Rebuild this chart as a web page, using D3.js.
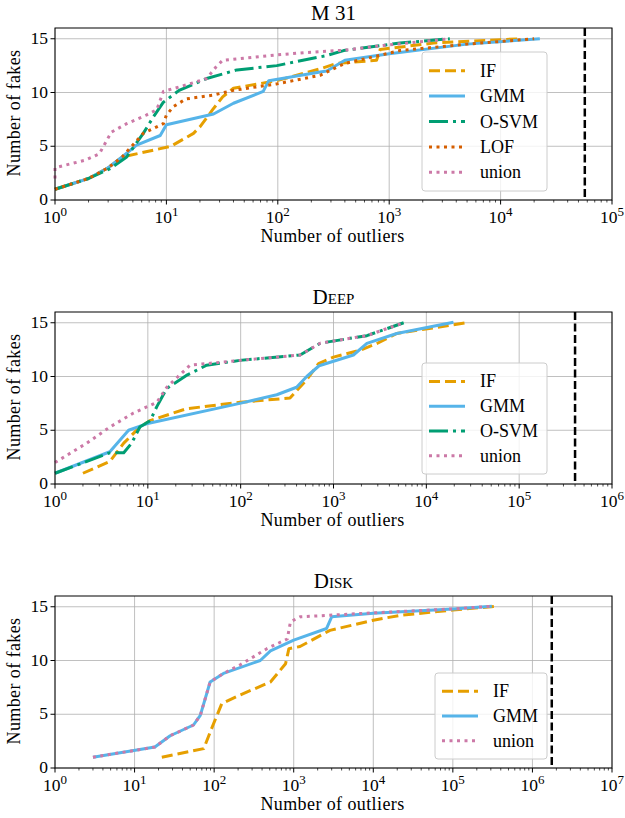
<!DOCTYPE html>
<html lang="en">
<head>
  <meta charset="UTF-8">
  <title>Number of fakes vs number of outliers</title>
  <script src="https://d3js.org/d3.v7.min.js"></script>
  <style>
    body { margin: 0; background: #fff; }
    svg text { font-family: "Liberation Serif", "DejaVu Serif", serif; fill: #000; }
  </style>
</head>
<body>
<div id="chart"></div>
<script>
// ---- data: [number of outliers, number of fakes] ----
const m31IF    = [[1,1],[2,2],[3,3],[4,4],[11,5],[17.5,6.2],[20,6.8],[26,8.4],[32,9.6],[40,10.4],[98,11.1],[240,12.2],[335,12.7],[770,13],[830,14],[2500,14.6],[15000,15]];
const m31GMM   = [[1,1],[2,2],[3,3],[4,4],[5.4,5.1],[8.8,6],[10,7],[26.5,8],[40,9],[74,10.1],[83,11.1],[240,11.9],[275,12],[400,13],[1000,13.6],[5000,14.5],[22500,15]];
const m31OSVM  = [[1,1],[2,2],[3.1,2.9],[4.4,4],[6.2,6.2],[7.6,7.7],[9.4,9.1],[10,9.3],[13,10.2],[23,11.3],[43,12.1],[98,12.5],[168,13],[265,13.4],[390,13.9],[1250,14.6],[3500,15]];
const m31LOF   = [[1,1],[2,2],[3,3],[4,4],[6.2,6.2],[8.2,6.8],[9.4,7.1],[10,7.9],[11.6,8.7],[15,9.4],[26,9.75],[40,10.2],[98,10.8],[240,11.6],[315,12.2],[400,12.7],[1250,13.9],[5000,14.5],[20000,15]];
const m31Union = [[1,2],[1,3],[1.86,3.7],[2.5,4.3],[3.2,6.3],[4.4,7.1],[6.6,7.9],[8.2,8.4],[9.4,10.1],[15,10.7],[23,11.3],[28,12.4],[32,13],[98,13.5],[172,13.7],[415,13.95],[830,14.35],[3500,15]];

const deepIF    = [[2,1],[3.9,2.1],[5.5,3.8],[8.2,5.3],[10.6,5.9],[26,7],[98,7.6],[340,8],[515,9.7],[690,11.2],[1000,11.8],[1940,12.45],[2940,13.07],[4800,14],[27000,15]];
const deepGMM   = [[1,1],[3.9,3],[6.2,5],[9.7,5.6],[98,7.5],[245,8.3],[400,9],[515,10],[700,11],[1640,12],[2290,13.08],[4800,14],[19600,15.05]];
const deepOSVM  = [[1,1],[3.9,2.9],[5.5,2.9],[6.7,3.8],[8.2,5.3],[10.6,5.9],[12.5,7.2],[16,8.9],[26,10.1],[43,11.05],[98,11.5],[437,12],[720,13.1],[2290,13.8],[5700,15]];
const deepUnion = [[1,2],[2.2,3.8],[3.9,5.3],[7,6.6],[12.5,7.6],[16,9],[28.5,11.05],[98,11.5],[437,12],[720,13.1],[2290,13.8],[5700,15]];

const diskIF    = [[22,1],[74,1.8],[98,4.1],[125,6],[213,6.8],[510,8],[790,9.7],[870,11.1],[1200,11.3],[2850,12.8],[10000,13.75],[21700,14.2],[100000,14.7],[357000,15.05]];
const diskGMM   = [[3,1],[18,1.95],[28,3],[55,4],[67,4.9],[89,8],[131,8.8],[380,10],[510,10.9],[1000,11.9],[2590,12.98],[3000,14.06],[10000,14.4],[100000,14.8],[309000,15.05]];
const diskUnion = [[3,1],[18,1.95],[28,3],[55,4],[67,4.9],[89,8],[131,8.8],[213,9.6],[460,11.1],[830,12],[910,13.6],[1200,14.06],[8300,14.4],[100000,14.8],[309000,15.05]];

const yTicks = [0, 5, 10, 15];
const totals = [57000, 400000, 1750000];   // dashed vertical marker per panel

const styles = {
  "IF":    { color: "#E69F00", dash: "11,5" },
  "GMM":   { color: "#56B4E9", dash: null },
  "O-SVM": { color: "#009E73", dash: "19,5,3,5" },
  "LOF":   { color: "#D55E00", dash: "3,4.5" },
  "union": { color: "#CC79A7", dash: "3,4.5" }
};

const panels = [
  { title: "M 31", smallcaps: false, top: 28, xmax: 1e5, total: totals[0],
    series: [["IF", m31IF], ["GMM", m31GMM], ["O-SVM", m31OSVM], ["LOF", m31LOF], ["union", m31Union]],
    legend: { x: 422, y: 52, w: 125, h: 139 } },
  { title: "Deep", smallcaps: true, top: 312, xmax: 1e6, total: totals[1],
    series: [["IF", deepIF], ["GMM", deepGMM], ["O-SVM", deepOSVM], ["union", deepUnion]],
    legend: { x: 422, y: 363, w: 125, h: 111 } },
  { title: "Disk", smallcaps: true, top: 596, xmax: 1e7, total: totals[2],
    series: [["IF", diskIF], ["GMM", diskGMM], ["union", diskUnion]],
    legend: { x: 435, y: 673, w: 112, h: 86 } }
];

const W = 625, H = 818;
const left = 55, right = 612, ph = 172;
const FONT = "Liberation Serif";

const svg = d3.select("#chart").append("svg")
  .attr("width", W).attr("height", H)
  .attr("font-family", FONT);

panels.forEach(p => {
  const g = svg.append("g");
  const x = d3.scaleLog().domain([1, p.xmax]).range([left, right]);
  const y = d3.scaleLinear().domain([0, 16]).range([p.top + ph, p.top]);
  const bottom = p.top + ph;

  const nDec = Math.round(Math.log10(p.xmax));
  const majors = d3.range(0, nDec + 1).map(e => Math.pow(10, e));
  const minors = [];
  for (let e = 0; e < nDec; e++) for (let k = 2; k <= 9; k++) minors.push(k * Math.pow(10, e));

  // grid
  g.selectAll(".gx").data(majors).enter().append("line")
    .attr("x1", d => x(d)).attr("x2", d => x(d))
    .attr("y1", p.top).attr("y2", bottom)
    .attr("stroke", "#b0b0b0").attr("stroke-width", 0.8);
  g.selectAll(".gy").data(yTicks).enter().append("line")
    .attr("x1", left).attr("x2", right)
    .attr("y1", d => y(d)).attr("y2", d => y(d))
    .attr("stroke", "#b0b0b0").attr("stroke-width", 0.8);

  // vertical dashed total
  g.append("line")
    .attr("x1", x(p.total)).attr("x2", x(p.total))
    .attr("y1", p.top).attr("y2", bottom)
    .attr("stroke", "#000").attr("stroke-width", 2.5)
    .attr("stroke-dasharray", "8,3.5");

  // curves
  const line = d3.line().x(d => x(d[0])).y(d => y(d[1]));
  p.series.forEach(([name, data]) => {
    const s = styles[name];
    g.append("path").datum(data)
      .attr("d", line)
      .attr("fill", "none")
      .attr("stroke", s.color)
      .attr("stroke-width", 3)
      .attr("stroke-dasharray", s.dash)
      .attr("stroke-linejoin", "round");
  });

  // spines
  g.append("rect")
    .attr("x", left).attr("y", p.top)
    .attr("width", right - left).attr("height", ph)
    .attr("fill", "none").attr("stroke", "#000").attr("stroke-width", 1);

  // ticks
  g.selectAll(".tM").data(majors).enter().append("line")
    .attr("x1", d => x(d)).attr("x2", d => x(d))
    .attr("y1", bottom).attr("y2", bottom + 4.5)
    .attr("stroke", "#000").attr("stroke-width", 1);
  g.selectAll(".tm").data(minors).enter().append("line")
    .attr("x1", d => x(d)).attr("x2", d => x(d))
    .attr("y1", bottom).attr("y2", bottom + 2.5)
    .attr("stroke", "#000").attr("stroke-width", 0.7);
  g.selectAll(".ty").data(yTicks).enter().append("line")
    .attr("x1", left - 4.5).attr("x2", left)
    .attr("y1", d => y(d)).attr("y2", d => y(d))
    .attr("stroke", "#000").attr("stroke-width", 1);

  // tick labels
  const xl = g.selectAll(".xl").data(majors).enter().append("text")
    .attr("x", d => x(d)).attr("y", bottom + 22.5)
    .attr("text-anchor", "middle").style("font-size", "17.5px");
  xl.append("tspan").text("10");
  xl.append("tspan").attr("dy", -7).style("font-size", "13px")
    .text(d => Math.round(Math.log10(d)));

  g.selectAll(".yl").data(yTicks).enter().append("text")
    .attr("x", left - 7).attr("y", d => y(d) + 5)
    .attr("text-anchor", "end").style("font-size", "17.5px")
    .text(d => d);

  // axis labels
  g.append("text")
    .attr("x", (left + right) / 2 - 1).attr("y", bottom + 42)
    .attr("text-anchor", "middle").style("font-size", "18px")
    .style("letter-spacing", "0.4px")
    .text("Number of outliers");
  g.append("text")
    .attr("transform", `translate(20,${p.top + ph / 2 - 1}) rotate(-90)`)
    .attr("text-anchor", "middle").style("font-size", "18px")
    .style("letter-spacing", "0.4px")
    .text("Number of fakes");

  // title
  g.append("text")
    .attr("x", (left + right) / 2).attr("y", p.top - 8)
    .attr("text-anchor", "middle").style("font-size", "21px")
    .style("font-variant", p.smallcaps ? "small-caps" : "normal")
    .text(p.title);

  // legend
  const L = p.legend;
  g.append("rect")
    .attr("x", L.x).attr("y", L.y).attr("width", L.w).attr("height", L.h)
    .attr("rx", 3).attr("fill", "rgba(255,255,255,0.8)")
    .attr("stroke", "#cccccc").attr("stroke-width", 1);
  const step = (L.h - 12) / p.series.length;
  p.series.forEach(([name], i) => {
    const s = styles[name];
    const cy = L.y + 6 + step * (i + 0.5);
    g.append("line")
      .attr("x1", L.x + 7).attr("x2", L.x + 43)
      .attr("y1", cy).attr("y2", cy)
      .attr("stroke", s.color).attr("stroke-width", 3)
      .attr("stroke-dasharray", s.dash);
    g.append("text")
      .attr("x", L.x + 58).attr("y", cy + 6)
      .style("font-size", "18px")
      .text(name);
  });
});
</script>
</body>
</html>
